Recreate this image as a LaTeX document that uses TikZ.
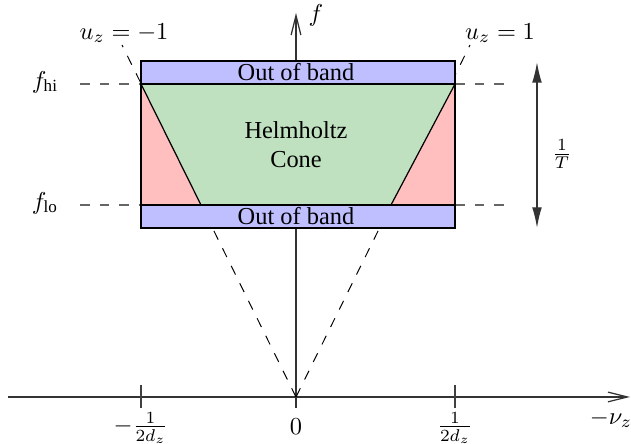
\documentclass[tikz,border=0pt]{standalone}
\usepackage{fontspec}
\setmainfont{Liberation Serif}
\usetikzlibrary{arrows.meta}
\definecolor{bandblue}{HTML}{BFBFFF}
\definecolor{conegreen}{HTML}{BFE1BF}
\definecolor{sidered}{HTML}{FFBFBF}
\definecolor{guidegray}{HTML}{666666}
\begin{document}
\begin{tikzpicture}[x=0.41pt,y=-0.41pt,
  every node/.style={inner sep=0pt, outer sep=0pt},
  axisline/.style={line width=0.5pt, draw=black!80, -{Straight Barb[length=8pt,width=4pt]}},
  tickline/.style={line width=0.5pt, draw=black!75},
  conedash/.style={line width=0.4pt, draw=black, dash pattern=on 4pt off 4pt},
  guidedash/.style={line width=0.6pt, draw=guidegray, dash pattern=on 4pt off 4pt},
  bandbox/.style={fill=bandblue, draw=black, line width=0.5pt},
  edgeline/.style={draw=black, line width=0.5pt},
  spanarrow/.style={line width=0.6pt, draw=black!80, {Latex[length=8.5pt,width=4pt]}-{Latex[length=8.5pt,width=4pt]}}
]
\useasboundingbox (0,0) rectangle (631,444);

% coordinates
\coordinate (O) at (296,397);
\coordinate (xL) at (8,397);
\coordinate (xR) at (630,397);
\coordinate (fB) at (296,408);
\coordinate (fT) at (296,13);
\coordinate (t1a) at (141,385);
\coordinate (t1b) at (141,408);
\coordinate (t2a) at (455,385);
\coordinate (t2b) at (455,408);
\coordinate (cL) at (122,45);
\coordinate (cR) at (470,45);
\coordinate (rTL) at (141,61);
\coordinate (rTR) at (455,61);
\coordinate (hiL) at (141,84);
\coordinate (hiR) at (455,84);
\coordinate (loL) at (141,205);
\coordinate (loR) at (455,205);
\coordinate (gL) at (201,205);
\coordinate (gR) at (391,205);
\coordinate (rBL) at (141,228);
\coordinate (rBR) at (455,228);
\coordinate (dhiL) at (80,84);
\coordinate (dhiR) at (513,84);
\coordinate (dloL) at (80,205);
\coordinate (dloR) at (513,205);
\coordinate (aT) at (537,62);
\coordinate (aB) at (537,228);

% axes
\draw[axisline] (xL) -- (xR);
\draw[axisline] (fB) -- (fT);
\draw[tickline] (t1a) -- (t1b);
\draw[tickline] (t2a) -- (t2b);

% cone and guide lines
\draw[conedash] (O) -- (cL);
\draw[conedash] (O) -- (cR);
\draw[guidedash] (dhiL) -- (hiL);
\draw[guidedash] (hiR) -- (dhiR);
\draw[guidedash] (dloL) -- (loL);
\draw[guidedash] (loR) -- (dloR);

% regions
\fill[conegreen] (hiL) -- (hiR) -- (gR) -- (gL) -- cycle;
\fill[sidered] (hiL) -- (gL) -- (loL) -- cycle;
\fill[sidered] (hiR) -- (gR) -- (loR) -- cycle;
\draw[edgeline] (hiL) -- (gL);
\draw[edgeline] (hiR) -- (gR);
\draw[edgeline] (hiL) -- (loL);
\draw[edgeline] (hiR) -- (loR);
\draw[bandbox] (rTL) rectangle (hiR);
\draw[bandbox] (loL) rectangle (rBR);

% span arrow
\draw[spanarrow] (aT) -- (aB);

% labels
\node (flab) at (316,15) {$f$};
\node (uzm) at (124,33) {$u_z=-1$};
\node (uzp) at (500,33) {$u_z=1$};
\node (fhi) at (45,82) {$f_{\mathrm{hi}}$};
\node (flo) at (45,203) {$f_{\mathrm{lo}}$};
\node (oob1) at (296,72.5) {Out of band};
\node (oob2) at (296,216.5) {Out of band};
\node[align=center] (helm) at (296,145) {Helmholtz\\Cone};
\node (tinv) at (562,154) {$\frac{1}{T}$};
\node (lab1) at (141,428) {$-\frac{1}{2d_z}$};
\node (lab0) at (296,427) {$0$};
\node (lab2) at (455,428) {$\frac{1}{2d_z}$};
\node (nu) at (611,419) {$-\nu_z$};
\end{tikzpicture}
\end{document}
